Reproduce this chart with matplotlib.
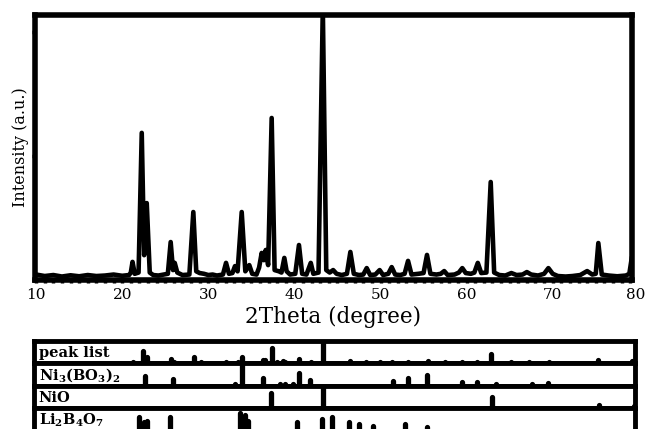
import matplotlib
matplotlib.use("Agg")
import matplotlib.pyplot as plt

plt.rcParams["font.family"] = ["DejaVu Serif"]
plt.rcParams["mathtext.fontset"] = "custom"
plt.rcParams["mathtext.rm"] = "DejaVu Serif:bold"
plt.rcParams["mathtext.bf"] = "DejaVu Serif:bold"

# measured XRD trace (2theta in degree, intensity in a.u.)
two_theta = [
    10.0, 11.0, 12.0, 13.0, 14.0, 15.0, 16.0, 17.0, 18.0, 19.0, 20.0, 20.8,
    21.0, 21.2, 21.45, 21.9, 22.27, 22.55, 22.85, 23.2, 23.6, 24.2, 24.8, 25.3,
    25.63, 25.9, 26.1, 26.4, 27.0, 27.8, 28.26, 28.6, 29.0, 29.5, 30.0, 30.5,
    31.0, 31.7, 32.06, 32.4, 32.8, 33.1, 33.4, 33.88, 34.3, 34.76, 35.1, 35.6,
    35.9, 36.2, 36.45, 36.67, 36.95, 37.36, 37.7, 38.2, 38.5, 38.83, 39.1, 39.5,
    40.1, 40.53, 40.9, 41.4, 41.9, 42.2, 42.8, 43.3, 43.7, 44.1, 44.5, 44.9,
    45.5, 46.1, 46.5, 46.9, 47.5, 48.0, 48.4, 48.8, 49.4, 49.9, 50.3, 50.9,
    51.3, 51.7, 52.3, 52.8, 53.2, 53.6, 54.4, 55.0, 55.4, 55.8, 56.5, 57.0,
    57.4, 57.8, 58.6, 59.1, 59.5, 59.9, 60.5, 60.9, 61.3, 61.7, 62.3, 62.8,
    63.2, 63.8, 64.5, 65.2, 65.8, 66.5, 67.0, 67.5, 68.3, 69.0, 69.5, 70.0,
    70.6, 71.5, 72.3, 73.2, 74.0, 74.6, 75.0, 75.3, 75.7, 76.5, 77.5, 78.5,
    78.9, 79.2, 79.4,
]
intensity = [
    22, 16, 20, 14, 19, 15, 20, 16, 18, 22, 17, 20,
    30, 73, 25, 30, 593, 100, 310, 30, 20, 18, 22, 25,
    153, 40, 69, 30, 20, 22, 274, 35, 28, 25, 20, 22,
    18, 22, 69, 25, 28, 56, 35, 274, 35, 60, 25, 22,
    50, 109, 80, 121, 60, 653, 40, 35, 30, 89, 35, 22,
    25, 141, 25, 22, 69, 25, 30, 1100, 40, 30, 40, 25,
    20, 25, 113, 25, 20, 22, 48, 20, 22, 40, 20, 25,
    52, 22, 20, 25, 77, 22, 25, 28, 101, 25, 22, 25,
    36, 20, 22, 30, 48, 28, 25, 30, 69, 28, 30, 395,
    30, 20, 18, 28, 20, 22, 32, 22, 18, 25, 48, 25,
    16, 14, 16, 20, 36, 22, 25, 149, 22, 18, 15, 18,
    25, 93, 90,
]

# reference stick patterns (position, relative height)
peak_list_pos = [21.3, 22.38, 22.85, 25.63, 26.0, 28.34, 29.1, 32.05, 33.5, 33.9,
                 36.3, 36.6, 37.36, 37.95, 38.64, 38.9, 40.53, 41.9, 43.3, 46.46,
                 48.3, 49.9, 51.3, 53.2, 55.55, 57.5, 59.5, 61.24, 62.8, 65.2,
                 67.2, 69.57, 75.3, 79.18]
peak_list_h = [0.06, 0.55, 0.28, 0.2, 0.06, 0.3, 0.06, 0.06, 0.08, 0.3,
               0.15, 0.15, 0.7, 0.08, 0.1, 0.08, 0.2, 0.06, 1.0, 0.12,
               0.06, 0.06, 0.06, 0.07, 0.1, 0.06, 0.06, 0.07, 0.42, 0.06,
               0.06, 0.07, 0.15, 0.12]

ni3bo32_pos = [22.65, 25.93, 33.1, 33.88, 36.4, 38.33, 38.9, 39.87, 40.53, 41.8,
               51.4, 53.2, 55.4, 59.5, 61.24, 63.4, 67.56, 69.5]
ni3bo32_h = [0.45, 0.3, 0.06, 1.0, 0.35, 0.06, 0.06, 0.06, 0.55, 0.25,
             0.2, 0.35, 0.5, 0.15, 0.15, 0.06, 0.06, 0.12]

nio_pos = [37.25, 43.3, 62.9, 75.4, 79.4]
nio_h = [0.7, 1.0, 0.5, 0.15, 0.12]

li2b4o7_pos = [21.95, 22.5, 22.85, 25.55, 33.7, 34.26, 34.65, 40.27, 43.17,
               44.33, 46.38, 47.54, 49.1, 52.85, 55.37]
li2b4o7_h = [0.6, 0.4, 0.43, 0.6, 0.78, 0.7, 0.43, 0.38, 0.5,
             0.6, 0.38, 0.29, 0.2, 0.29, 0.14]

strip_labels = ["peak list", r"Ni$_3$(BO$_3$)$_2$", "NiO", r"Li$_2$B$_4$O$_7$"]
strip_pos = [peak_list_pos, ni3bo32_pos, nio_pos, li2b4o7_pos]
strip_h = [peak_list_h, ni3bo32_h, nio_h, li2b4o7_h]

W, H = 646, 429


def px2deg(px):
    return 10 + (px - 36.1) / 8.61


fig = plt.figure(figsize=(W / 100, H / 100), dpi=100)

ax = fig.add_axes([35 / W, 1 - 280 / H, 597 / W, 265 / H])
ax.plot(two_theta, intensity, color="black", lw=3.3, solid_joinstyle="round",
        solid_capstyle="round")
ax.set_xlim(px2deg(35), px2deg(632))
ax.set_ylim(0, 1068)
ax.set_xticks(range(10, 80, 10))
ax.set_xticks(range(10, 80), minor=True)
ax.set_yticks([0, 500, 1000])
ax.set_yticklabels([])
ax.tick_params(axis="x", which="both", direction="out", length=2.5, width=2.5,
               labelsize=11, pad=3)
ax.tick_params(axis="y", direction="out", length=2.5, width=2.5)
for s in ax.spines.values():
    s.set_linewidth(4)
ax.annotate("80", xy=(80, 0), xycoords=("data", "axes fraction"),
            xytext=(-2, -5.5), textcoords="offset points",
            ha="center", va="top", fontsize=11, annotation_clip=False)
ax.set_xlabel("2Theta (degree)", fontsize=15.5, labelpad=3)
ax.set_ylabel("Intensity (a.u.)", fontsize=11.5, labelpad=-2)

strip_h_px = 22.4
for i, (lab, pos, hh) in enumerate(zip(strip_labels, strip_pos, strip_h)):
    top = 341 + i * strip_h_px
    sax = fig.add_axes([34 / W, 1 - (top + strip_h_px) / H, 601 / W, strip_h_px / H])
    sax.vlines(pos, 0, hh, color="black", lw=3.8, capstyle="round")
    sax.set_xlim(px2deg(34), px2deg(635))
    sax.set_ylim(0, 1)
    sax.set_xticks([])
    sax.set_yticks([])
    for s in sax.spines.values():
        s.set_linewidth(3.5)
    sax.text(0.008, 0.45, lab, transform=sax.transAxes, fontsize=10.5,
             fontweight="bold", ha="left", va="center")

fig.savefig("out.png", dpi=100)
